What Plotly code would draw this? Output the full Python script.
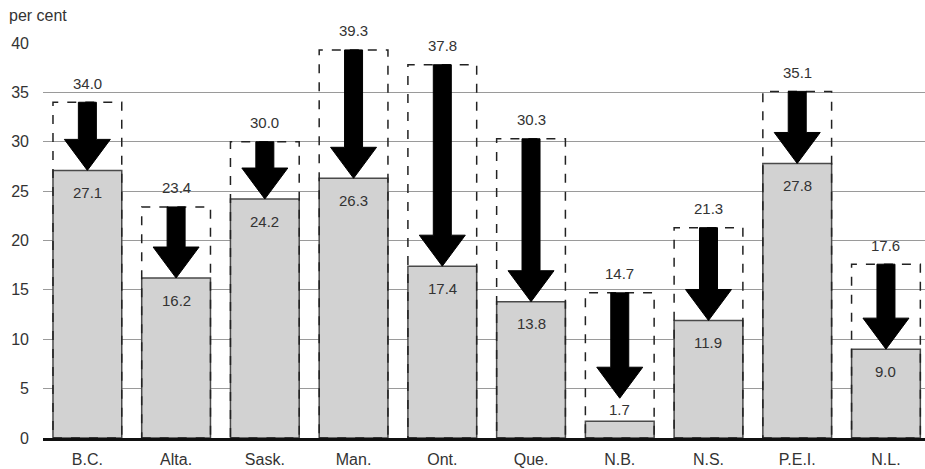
import plotly.graph_objects as go

provinces = ["B.C.", "Alta.", "Sask.", "Man.", "Ont.", "Que.", "N.B.", "N.S.", "P.E.I.", "N.L."]
before = [34.0, 23.4, 30.0, 39.3, 37.8, 30.3, 14.7, 21.3, 35.1, 17.6]
after = [27.1, 16.2, 24.2, 26.3, 17.4, 13.8, 1.7, 11.9, 27.8, 9.0]
after_label_pos = ["inside", "inside", "inside", "inside", "inside", "inside", "above", "inside", "inside", "inside"]
y_ticks = [0, 5, 10, 15, 20, 25, 30, 35, 40]

W, H = 925, 469
ML, MR, MT, MB = 43, 0, 43, 31
x_range = [-0.5, 9.44]
y_range = [0, 40]
plot_w = W - ML - MR
plot_h = H - MT - MB
px_x = plot_w / (x_range[1] - x_range[0])
px_y = plot_h / (y_range[1] - y_range[0])

bar_w = 0.775
font_family = "Liberation Sans, Arial, Helvetica, sans-serif"
text_col = "#333333"

xs = list(range(len(provinces)))

fig = go.Figure()
fig.add_trace(go.Bar(
    x=xs, y=after, width=bar_w,
    marker=dict(color="#d2d2d2", line=dict(color="#4a4a4a", width=1.5)),
    hoverinfo="skip", showlegend=False,
))

shapes = []
annotations = []
shaft_hw = 9 / px_x
head_hw = 23 / px_x
head_len = 31 / px_y
for i, (b, a, pos) in enumerate(zip(before, after, after_label_pos)):
    # dashed box for previous value
    shapes.append(dict(type="rect", xref="x", yref="y",
                       x0=i - bar_w / 2, x1=i + bar_w / 2, y0=0, y1=b,
                       line=dict(color="#222222", width=1.5, dash="dash"),
                       fillcolor="rgba(0,0,0,0)", layer="above"))
    tip = a if pos == "inside" else a + 23 / px_y
    hb = tip + head_len
    path = (f"M {i - shaft_hw} {b} L {i + shaft_hw} {b} L {i + shaft_hw} {hb} "
            f"L {i + head_hw} {hb} L {i} {tip} L {i - head_hw} {hb} "
            f"L {i - shaft_hw} {hb} Z")
    shapes.append(dict(type="path", xref="x", yref="y", path=path,
                       fillcolor="black", line=dict(color="black", width=1), layer="above"))
    annotations.append(dict(x=i, y=b, xref="x", yref="y", text=f"{b:.1f}",
                            showarrow=False, yanchor="middle", yshift=19,
                            font=dict(size=15, color=text_col, family=font_family)))
    if pos == "inside":
        annotations.append(dict(x=i, y=a, xref="x", yref="y", text=f"{a:.1f}",
                                showarrow=False, yanchor="middle", yshift=-22,
                                font=dict(size=15, color=text_col, family=font_family)))
    else:
        annotations.append(dict(x=i, y=a, xref="x", yref="y", text=f"{a:.1f}",
                                showarrow=False, yanchor="middle", yshift=12,
                                font=dict(size=15, color=text_col, family=font_family)))

annotations.append(dict(x=(7 - ML) / plot_w, y=1 + (MT - 15) / plot_h, xref="paper", yref="paper",
                        text="per cent", showarrow=False, xanchor="left", yanchor="middle",
                        font=dict(size=16, color=text_col, family=font_family)))

fig.update_layout(
    width=W, height=H,
    margin=dict(l=ML, r=MR, t=MT, b=MB, pad=0),
    plot_bgcolor="white", paper_bgcolor="white",
    shapes=shapes, annotations=annotations,
    xaxis=dict(range=x_range, tickmode="array", tickvals=xs, ticktext=provinces,
               showgrid=False, zeroline=False, showline=True, linecolor="#111111", linewidth=2.5,
               ticks="", ticklabelstandoff=5, automargin=False,
               tickfont=dict(size=16, color=text_col, family=font_family), fixedrange=True),
    yaxis=dict(range=y_range, tickmode="array", tickvals=y_ticks, ticktext=[str(v) for v in y_ticks],
               showgrid=True, gridcolor="#9a9a9a", gridwidth=1.2, zeroline=False, showline=False,
               ticks="", ticklabelstandoff=13, automargin=False,
               tickfont=dict(size=16, color=text_col, family=font_family), fixedrange=True),
    bargap=0.2,
)

fig.write_html("out.html", config={"displayModeBar": False},
               post_script="document.body.style.margin='0';document.body.style.overflow='hidden';")
